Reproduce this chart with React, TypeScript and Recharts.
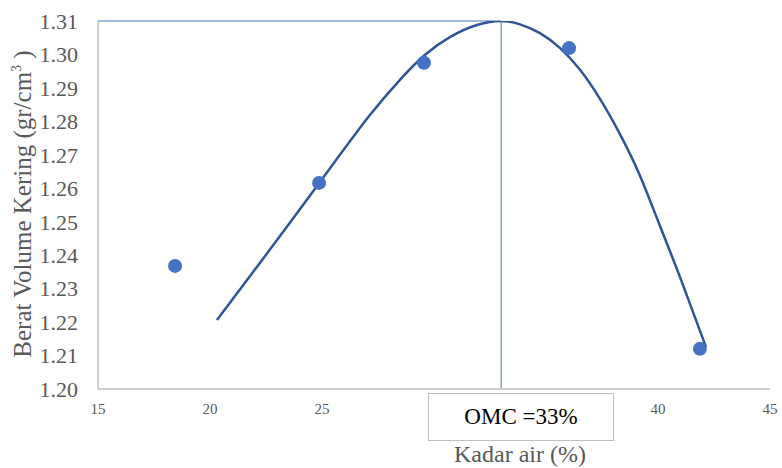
import {
  ComposedChart,
  Line,
  ReferenceLine,
  Scatter,
  XAxis,
  YAxis,
} from "recharts";

// measured points (kadar air %, berat volume kering)
const pointX = [18.44, 24.87, 29.55, 36.03, 41.87];
const pointY = [1.2368, 1.2616, 1.2975, 1.3019, 1.212];

// fitted trend curve
const curveX = [
  20.31, 22.23, 24.02, 25.8, 27.14, 28.48, 29.6, 30.71, 31.92, 33.0,
  33.84, 34.73, 35.63, 36.52, 37.41, 38.3, 39.2, 40.09, 40.98, 42.14,
];
const curveY = [
  1.2206, 1.2377, 1.2538, 1.27, 1.2819, 1.2924, 1.2999, 1.3052, 1.3088, 1.31,
  1.309, 1.3064, 1.3019, 1.2954, 1.2867, 1.2762, 1.2637, 1.2487, 1.2335, 1.2126,
];

// 30 and 35 sit under the OMC box in the original
const xTicks = [15, 20, 25, 40, 45];
const yTicks = [1.2, 1.21, 1.22, 1.23, 1.24, 1.25, 1.26, 1.27, 1.28, 1.29, 1.3, 1.31];

const omcX = 33;
const omcY = 1.31;

const points = pointX.map((x, i) => ({ x, y: pointY[i] }));
const curve = curveX.map((x, i) => ({ x, y: curveY[i] }));

const serif = "Liberation Serif, DejaVu Serif, serif";

export default function App() {
  return (
    <div style={{ position: "absolute", left: 0, top: 0, width: 782, height: 468, background: "#fff" }}>
      <ComposedChart
        width={782}
        height={468}
        margin={{ top: 21, right: 12, left: 0, bottom: 49 }}
        style={{ fontFamily: serif }}
      >
        <XAxis
          type="number"
          dataKey="x"
          domain={[15, 45]}
          ticks={xTicks}
          allowDataOverflow
          tickLine={false}
          tickSize={0}
          tickMargin={14}
          height={30}
          stroke="#bfbfbf"
          strokeWidth={1.5}
          tick={{ fontSize: 15, fill: "#595959", fontFamily: serif }}
        />
        <YAxis
          type="number"
          dataKey="y"
          domain={[1.2, 1.31]}
          ticks={yTicks}
          allowDataOverflow
          tickLine={false}
          tickSize={0}
          tickMargin={20}
          width={98}
          stroke="#bfbfbf"
          strokeWidth={1.5}
          tickFormatter={(v: number) => v.toFixed(2)}
          tick={{ fontSize: 22, fill: "#595959", fontFamily: serif }}
        />
        <ReferenceLine
          segment={[{ x: 15, y: omcY }, { x: omcX, y: omcY }]}
          stroke="#4472c4"
          strokeWidth={1}
          ifOverflow="visible"
        />
        <ReferenceLine
          segment={[{ x: omcX, y: omcY }, { x: omcX, y: 1.2 }]}
          stroke="#4472c4"
          strokeWidth={1}
          ifOverflow="visible"
        />
        <Line
          data={curve}
          dataKey="y"
          type="natural"
          stroke="#2f5597"
          strokeWidth={2.5}
          dot={false}
          activeDot={false}
          isAnimationActive={false}
        />
        <Scatter
          data={points}
          dataKey="y"
          fill="#4472c4"
          shape={(p: any) => <circle cx={p.cx} cy={p.cy} r={7} fill="#4472c4" />}
          isAnimationActive={false}
        />
      </ComposedChart>
      <div
        style={{
          position: "absolute",
          left: 22,
          top: 204,
          transform: "translate(-50%, -50%) rotate(-90deg)",
          whiteSpace: "nowrap",
          fontFamily: serif,
          fontSize: 25,
          lineHeight: 1,
          color: "#595959",
        }}
      >
        Berat Volume Kering (gr/cm<sup style={{ fontSize: 14 }}>3</sup> )
      </div>
      <div
        style={{
          position: "absolute",
          left: 428,
          top: 393,
          width: 186,
          height: 48,
          boxSizing: "border-box",
          border: "1.5px solid #bfbfbf",
          background: "#fff",
          display: "flex",
          alignItems: "center",
          justifyContent: "center",
          fontFamily: serif,
          fontSize: 23,
          color: "#000",
        }}
      >
        OMC =33%
      </div>
      <div
        style={{
          position: "absolute",
          left: 520,
          top: 454,
          transform: "translate(-50%, -50%)",
          whiteSpace: "nowrap",
          fontFamily: serif,
          fontSize: 24,
          lineHeight: 1,
          color: "#595959",
        }}
      >
        Kadar air (%)
      </div>
    </div>
  );
}
